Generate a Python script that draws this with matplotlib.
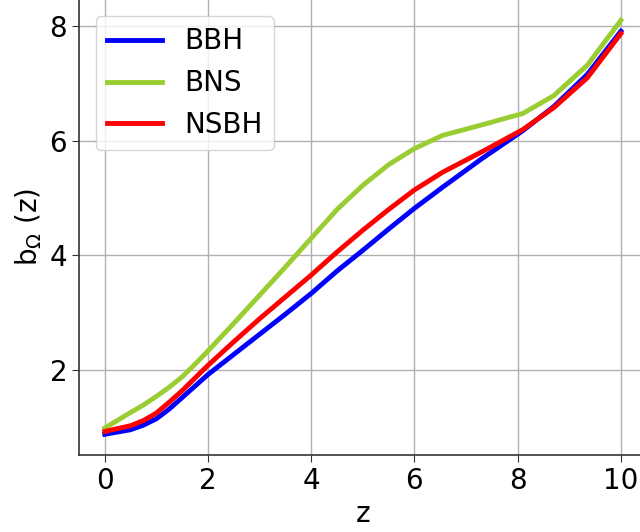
import matplotlib.pyplot as plt

# redshift samples and bias curves per source population
z = [0, 0.5, 0.75, 1, 1.25, 1.5, 1.75, 2, 2.5, 3, 3.5, 4, 4.5, 5, 5.5, 6, 6.55, 7.3, 8.1, 8.7, 9.35, 10]
b_bbh = [0.89, 0.97, 1.05, 1.16, 1.33, 1.53, 1.73, 1.93, 2.28, 2.63, 2.98, 3.34, 3.73, 4.09, 4.46, 4.82, 5.19, 5.68, 6.17, 6.59, 7.15, 7.90]
b_bns = [1.00, 1.27, 1.40, 1.55, 1.71, 1.89, 2.11, 2.34, 2.82, 3.31, 3.80, 4.30, 4.80, 5.22, 5.58, 5.86, 6.09, 6.27, 6.47, 6.78, 7.31, 8.09]
b_nsbh = [0.94, 1.04, 1.13, 1.26, 1.45, 1.65, 1.87, 2.09, 2.50, 2.90, 3.28, 3.66, 4.06, 4.44, 4.80, 5.14, 5.45, 5.80, 6.19, 6.57, 7.09, 7.86]

fig = plt.figure(figsize=(6.4, 5.32), dpi=100)
ax = fig.add_axes([0.1234, 0.1447, 0.887, 0.856])

ax.plot(z, b_bbh, color='blue', lw=3.5, label='BBH')
ax.plot(z, b_bns, color='yellowgreen', lw=3.5, label='BNS')
ax.plot(z, b_nsbh, color='red', lw=3.5, label='NSBH')

ax.grid(True, color='#b0b0b0', lw=1)
ax.set_axisbelow(True)
for side in ['top', 'right']:
    ax.spines[side].set_visible(False)
for side in ['left', 'bottom']:
    ax.spines[side].set_color('#333333')
    ax.spines[side].set_linewidth(1.2)

ax.set_xticks([0, 2, 4, 6, 8, 10])
ax.set_yticks([2, 4, 6, 8])
ax.tick_params(labelsize=20, length=5, color='#333333')
ax.set_xlabel('z', fontsize=20)
ax.set_ylabel(r'b$_\Omega$ (z)', fontsize=20)

ax.legend(loc='upper left', fontsize=20, handlelength=2.0, borderaxespad=0.6)

fig.savefig('out.png', dpi=100)
